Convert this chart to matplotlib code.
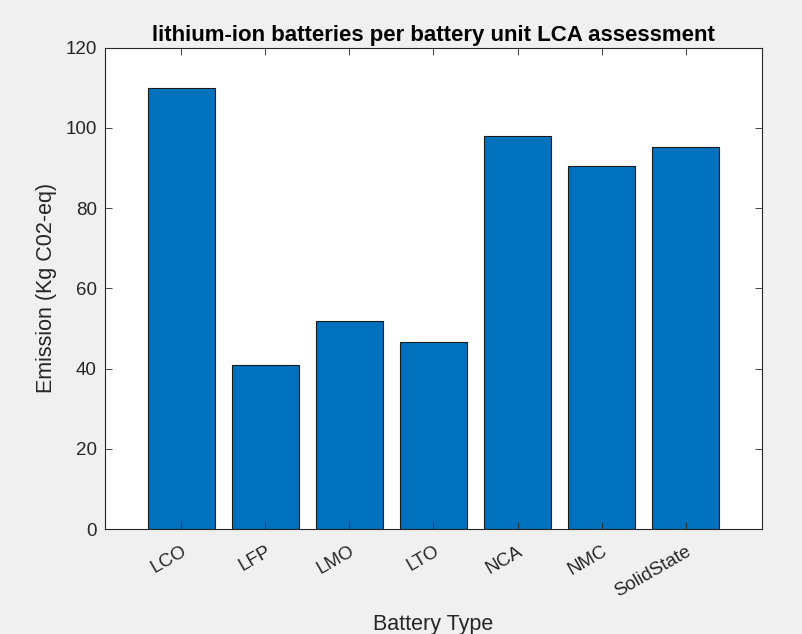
import matplotlib
matplotlib.use("Agg")
import matplotlib.pyplot as plt
import numpy as np

battery_types = ["LCO", "LFP", "LMO", "LTO", "NCA", "NMC", "SolidState"]
emissions = [110.0, 40.9, 51.8, 46.7, 97.9, 90.6, 95.2]
y_ticks = [0, 20, 40, 60, 80, 100, 120]

plt.rcParams["font.family"] = ["Liberation Sans", "DejaVu Sans"]
axis_color = "#262626"

fig = plt.figure(figsize=(8.03, 6.34), dpi=100, facecolor="#f0f0f0")
ax = fig.add_axes([0.1308, 0.1656, 0.818, 0.7594])

x = np.arange(1, len(battery_types) + 1)
ax.bar(x, emissions, width=0.8, color="#0072bd", edgecolor="#1a1a1a", linewidth=0.8)

ax.set_xlim(0.095, 7.905)
ax.set_ylim(0, 120)
ax.set_yticks(y_ticks)
ax.set_xticks(x)
ax.set_xticklabels(battery_types, rotation=30, ha="right", va="top",
                   rotation_mode="anchor", fontsize=13.5, color=axis_color)
ax.tick_params(axis="y", labelsize=13.5, labelcolor=axis_color, pad=6)
ax.tick_params(axis="x", pad=10)
ax.tick_params(direction="in", top=True, right=True, length=5,
               color=axis_color, width=0.6)
for sp in ax.spines.values():
    sp.set_color(axis_color)
    sp.set_linewidth(0.8)

ax.set_title("lithium-ion batteries per battery unit LCA assessment",
             fontsize=16, fontweight="bold", color="black", pad=5)
ax.set_xlabel("Battery Type", fontsize=15.5, color=axis_color, labelpad=10)
ax.set_ylabel("Emission (Kg C02-eq)", fontsize=15.5, color=axis_color, labelpad=6)

fig.savefig("out.png", dpi=100, facecolor=fig.get_facecolor())
